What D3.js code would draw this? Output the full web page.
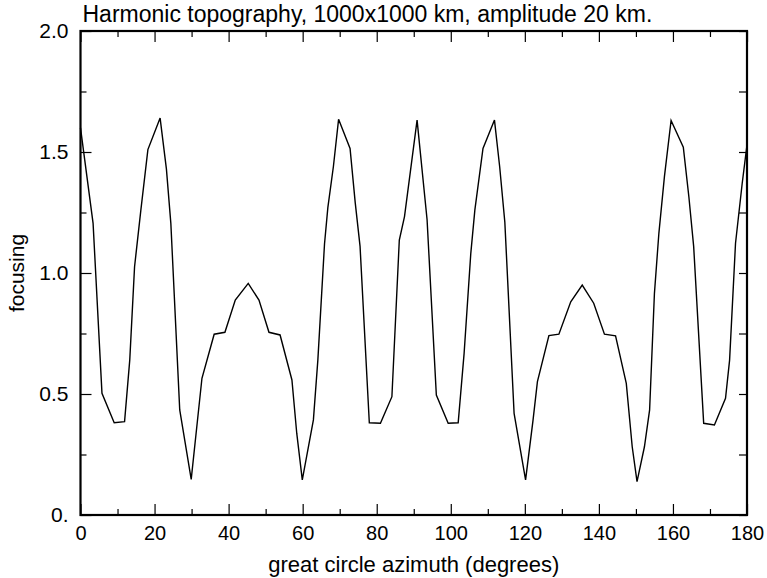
<!DOCTYPE html>
<html>
<head>
<meta charset="utf-8">
<script src="https://cdn.jsdelivr.net/npm/d3@7"></script>
<style>
  body { margin: 0; background: #fff; }
  svg text { font-family: "Liberation Sans", Arial, Helvetica, sans-serif; fill: #000; }
</style>
</head>
<body>
<svg id="chart" width="767" height="578"></svg>
<script>
// Great-circle azimuth (degrees) of each computed ray direction
const azimuth = [
  0, 3.4, 5.8, 9.1, 11.9, 13.3, 14.6, 16.3, 18.2, 21.5, 23.2, 24.4, 26.8, 29.9,
  32.8, 36.1, 39.0, 41.8, 45.3, 48.2, 50.9, 53.9, 57.1, 58.4, 59.9,
  62.9, 64.1, 65.9, 66.8, 68.3, 69.7, 72.8, 74.2, 75.5, 78.0, 81.0, 84.1, 86.1, 87.5, 90.9,
  93.6, 96.1, 99.3, 102.0, 103.6, 105.4, 106.5, 108.7, 111.8, 113.2, 114.6, 117.1, 120.2,
  122.2, 123.4, 126.5, 129.2, 132.4, 135.5, 138.6, 141.5, 144.5, 147.4, 149.0, 150.3,
  152.3, 153.7, 155.0, 156.2, 157.7, 159.5, 162.8, 164.3, 165.6, 168.3, 171.2, 174.2,
  175.3, 176.9, 178.7, 180
];

// Focusing factor at each azimuth
const focusing = [
  1.60, 1.205, 0.503, 0.381, 0.386, 0.64, 1.026, 1.26, 1.51, 1.64, 1.43, 1.205, 0.434, 0.147,
  0.565, 0.747, 0.755, 0.888, 0.957, 0.888, 0.755, 0.744, 0.558, 0.338, 0.145,
  0.393, 0.64, 1.12, 1.27, 1.44, 1.635, 1.515, 1.29, 1.11, 0.381, 0.379, 0.489, 1.136, 1.233, 1.632,
  1.22, 0.496, 0.379, 0.381, 0.668, 1.08, 1.26, 1.515, 1.632, 1.44, 1.21, 0.42, 0.145,
  0.39, 0.551, 0.741, 0.747, 0.881, 0.95, 0.875, 0.747, 0.74, 0.544, 0.282, 0.138,
  0.282, 0.434, 0.916, 1.164, 1.398, 1.63, 1.52, 1.315, 1.109, 0.379, 0.372, 0.482,
  0.64, 1.123, 1.37, 1.53
];

const xMajorTicks = [0, 20, 40, 60, 80, 100, 120, 140, 160, 180];
const xMinorTicks = [10, 30, 50, 70, 90, 110, 130, 150, 170];
const yMajorTicks = [0, 0.5, 1.0, 1.5, 2.0];
const yMinorTicks = [0.25, 0.75, 1.25, 1.75];
const yTickLabels = ["0.", "0.5", "1.0", "1.5", "2.0"];

const titleText = "Harmonic topography, 1000x1000 km, amplitude 20 km.";
const xTitle = "great circle azimuth (degrees)";
const yTitle = "focusing";

const plot = { left: 80.5, right: 747, top: 31, bottom: 515 };
const majorLen = 11, minorLen = 6;

const svg = d3.select("#chart");

const x = d3.scaleLinear().domain([0, 180]).range([plot.left, plot.right]);
const y = d3.scaleLinear().domain([0, 2]).range([plot.bottom, plot.top]);

// inward-pointing ticks on all four sides
function tickAxis(axisFn, scale, values, len, pos, labels) {
  const a = axisFn(scale).tickValues(values).tickSize(-len).tickSizeOuter(0);
  if (labels) a.tickFormat((d, i) => labels[i]);
  else a.tickFormat(() => "");
  const g = svg.append("g").attr("transform", pos).call(a);
  g.select(".domain").remove();
  g.selectAll(".tick line").attr("stroke", "#000").attr("stroke-width", 1.2);
  return g;
}

// bottom axis with labels
const gx = tickAxis(d3.axisBottom, x, xMajorTicks, majorLen,
  `translate(0,${plot.bottom})`, xMajorTicks.map(String));
gx.selectAll(".tick text").attr("font-size", 20).attr("y", 11);
tickAxis(d3.axisBottom, x, xMinorTicks, minorLen, `translate(0,${plot.bottom})`);

// top axis
tickAxis(d3.axisTop, x, xMajorTicks, majorLen, `translate(0,${plot.top})`);
tickAxis(d3.axisTop, x, xMinorTicks, minorLen, `translate(0,${plot.top})`);

// left axis with labels
const gy = tickAxis(d3.axisLeft, y, yMajorTicks, majorLen,
  `translate(${plot.left},0)`, yTickLabels);
gy.selectAll(".tick text").attr("font-size", 21).attr("x", -12);
tickAxis(d3.axisLeft, y, yMinorTicks, minorLen, `translate(${plot.left},0)`);

// right axis
tickAxis(d3.axisRight, y, yMajorTicks, minorLen + 2, `translate(${plot.right},0)`);
tickAxis(d3.axisRight, y, yMinorTicks, minorLen + 2, `translate(${plot.right},0)`);

svg.selectAll(".tick text").attr("font-family", "'Liberation Sans', Arial, sans-serif").attr("fill", "#000");

// frame
svg.append("rect")
  .attr("x", plot.left).attr("y", plot.top)
  .attr("width", plot.right - plot.left).attr("height", plot.bottom - plot.top)
  .attr("fill", "none").attr("stroke", "#000").attr("stroke-width", 2.2);

// focusing curve
const pts = azimuth.map((a, i) => [a, focusing[i]]);
svg.append("path")
  .datum(pts)
  .attr("fill", "none")
  .attr("stroke", "#000")
  .attr("stroke-width", 1.4)
  .attr("stroke-linejoin", "miter")
  .attr("d", d3.line().x(d => x(d[0])).y(d => y(d[1])));

// titles
svg.append("text")
  .attr("x", plot.left + 2).attr("y", 22)
  .attr("font-size", 23)
  .text(titleText);

svg.append("text")
  .attr("x", (plot.left + plot.right) / 2).attr("y", 572)
  .attr("text-anchor", "middle")
  .attr("font-size", 22)
  .text(xTitle);

svg.append("text")
  .attr("transform", `translate(24,${(plot.top + plot.bottom) / 2}) rotate(-90)`)
  .attr("text-anchor", "middle")
  .attr("font-size", 21)
  .text(yTitle);
</script>
</body>
</html>
